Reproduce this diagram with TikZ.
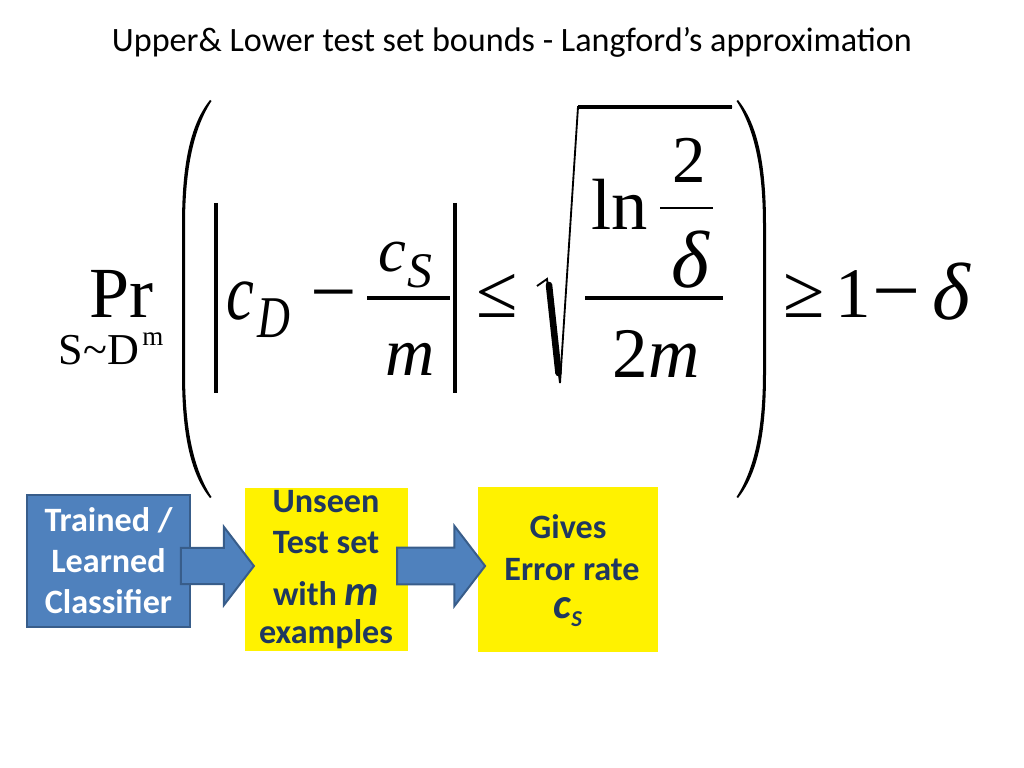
\documentclass[tikz,border=0pt]{standalone}
\usepackage{fontspec}
\setmainfont{Carlito}
\newfontfamily\tnr{Liberation Serif}
\usetikzlibrary{shapes.arrows}
\newcommand\fsz[1]{\fontsize{#1}{#1}\selectfont}
\definecolor{boxblue}{HTML}{4F81BD}
\definecolor{boxedge}{HTML}{385D8A}
\definecolor{navy}{RGB}{31,56,96}
\begin{document}
\begin{tikzpicture}[x=0.703125pt,y=-0.703125pt,
  mth/.style={anchor=base,inner sep=0pt},
  bluebox/.style={fill=boxblue,draw=boxedge,line width=1.4pt,inner sep=0pt,
     text=white,align=center,font=\bfseries\fontsize{24}{28.8}\selectfont},
  yelbox/.style={fill=yellow,inner sep=0pt},
  ytext/.style={anchor=base,inner sep=0pt,text=navy,font=\bfseries\fsz{24}},
  blockarr/.style={single arrow,fill=boxblue,draw=boxedge,line width=1.4pt,
     single arrow tip angle=105,inner xsep=0pt,outer sep=0pt},
  thickrule/.style={line width=2.8pt},
]
\useasboundingbox (0,0) rectangle (1024,768);
% title
\node[inner sep=0pt,font=\fsz{24}] (title) at (512,42) {Upper\& Lower test set bounds - Langford’s approximation};

% ---- formula ----
\node[mth,font=\tnr\fsz{50.6},text depth=0pt] (pr) at (121,318) {Pr};
\node[mth,font=\tnr\fsz{31}] (sd) at (99,364) {S\textasciitilde D};
\node[mth,font=\tnr\fsz{19}] (sdm) at (153,346) {m};
% left paren
\fill (210,100) .. controls (190,125) and (182,165) .. (182,225) -- (182,373)
  .. controls (182,433) and (190,473) .. (210,498) -- (211.5,497)
  .. controls (194,470) and (185,430) .. (185,373) -- (185,225)
  .. controls (185,168) and (194,128) .. (211.5,101) -- cycle;
% right paren
\fill (738,100) .. controls (758,125) and (766,165) .. (766,225) -- (766,373)
  .. controls (766,433) and (758,473) .. (738,498) -- (736.5,497)
  .. controls (754,470) and (763,430) .. (763,373) -- (763,225)
  .. controls (763,168) and (754,128) .. (736.5,101) -- cycle;
% absolute bars
\draw[thickrule] (216,203) -- (216,393);
\draw[thickrule] (455,203) -- (455,393);
\node[mth,font=\tnr\itshape\fsz{44}] (cd) at (240,320) {\scalebox{1}[1.28]{c}};
\node[mth,font=\tnr\itshape\fsz{32}] (cdD) at (274,337) {\scalebox{1}[1.3]{D}};
\node[mth,font=\tnr\fsz{58}] (mi1) at (333.5,319) {−};
\draw[line width=2.4pt] (367,298) -- (450,298);
\node[mth,font=\tnr\itshape\fsz{44}] (cs) at (392,272) {c};
\node[mth,font=\tnr\itshape\fsz{35}] (csS) at (420,288) {S};
\node[mth,font=\tnr\itshape\fsz{48}] (m1) at (410,375) {m};
\node[mth,font=\tnr\fsz{53}] (le) at (497,318) {≤};
% square root
\draw[line width=1.3pt,line join=miter] (537,286) -- (547,279) -- (560,383) -- (578,107) -- (732,107);
\draw[line width=4.6pt,line cap=round] (549,285) -- (558.5,373);
\draw[line width=2.2pt] (578,107) -- (732,107);
\node[mth,font=\tnr\fsz{51}] (ln) at (620,230) {ln};
\draw[line width=0.9pt] (660,208) -- (713,208);
\node[mth,font=\tnr\fsz{47}] (two) at (689,183) {2};
\node[mth,font=\tnr\itshape\fsz{57}] (del1) at (690,287) {δ};
\draw[thickrule] (585,298) -- (723,298);
\node[mth,font=\tnr\fsz{50}] (twom) at (656,377) {2\textit{m}};
\node[mth,font=\tnr\fsz{53}] (ge) at (804,318) {≥};
\node[mth,font=\tnr\fsz{50}] (one) at (853,318) {1};
\node[mth,font=\tnr\fsz{60}] (mi2) at (897,319) {−};
\node[mth,font=\tnr\itshape\fsz{57}] (del2) at (951,320) {δ};

% ---- boxes ----
\node[bluebox,minimum width=114.6pt,minimum height=92.8pt] (clf) at (108.5,561)
  {Trained /\\Learned\\Classifier};
\node[yelbox,minimum width=114.6pt,minimum height=115.3pt] (test) at (326.5,569.5) {};
\node[yelbox,minimum width=126.6pt,minimum height=116pt] (err) at (568,569.5) {};
\node[ytext] (t1) at (326,512) {Unseen};
\node[ytext] (t2) at (326,553) {Test set};
\node[ytext] (t3) at (326,605) {with {\fsz{30}\itshape m}};
\node[ytext] (t4) at (326,643) {examples};
\node[ytext] (e1) at (568,538) {Gives};
\node[ytext] (e2) at (572,580) {Error rate};
\node[ytext] (e3) at (568,618) {{\fsz{30}\itshape c}{\fsz{16}\itshape\raisebox{-6.3pt}{S}}};
% ---- block arrows ----
\node[blockarr,minimum height=51.3pt,inner ysep=12pt,single arrow head extend=14.8pt] (a1) at (210.5,566) {};
\node[blockarr,minimum height=61.9pt,inner ysep=12.3pt,single arrow head extend=15.1pt] (a2) at (434,566) {};
\end{tikzpicture}
\end{document}
